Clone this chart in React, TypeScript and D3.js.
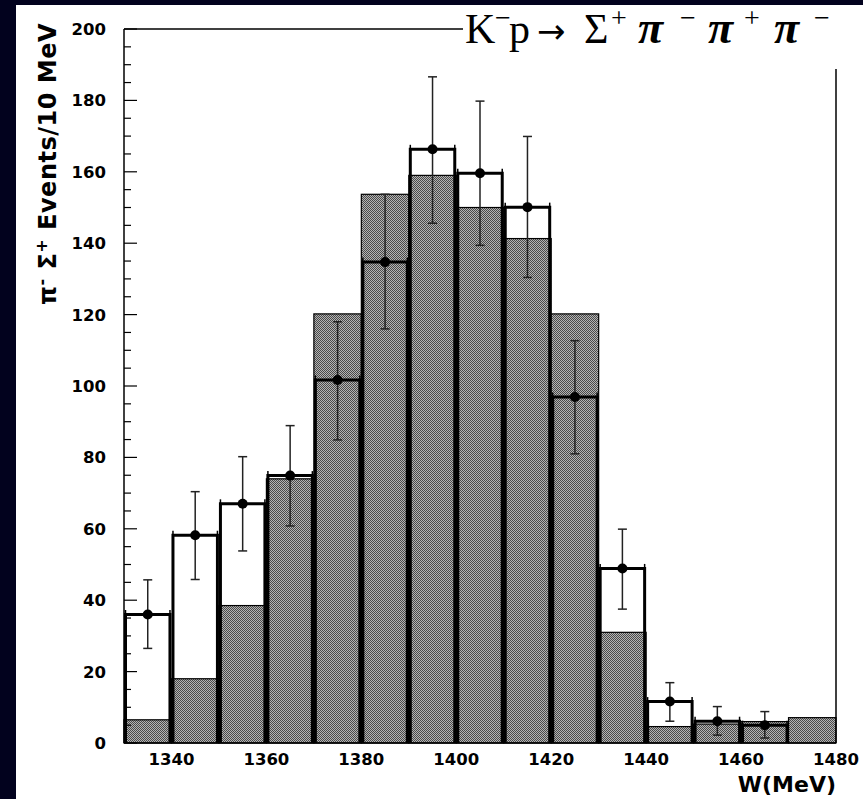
import React from "react";
import * as d3 from "d3";

// ---- data ----
const binLow = [1330, 1340, 1350, 1360, 1370, 1380, 1390, 1400, 1410, 1420, 1430, 1440, 1450, 1460, 1470];
const mcCounts = [6.5, 18, 38.5, 74, 120.2, 153.7, 159, 150, 141.3, 120.2, 31, 4.6, 5.3, 6.0, 7.1];
const dataCounts = [36, 58.2, 67, 74.9, 101.7, 134.7, 166.3, 159.6, 150.1, 96.9, 48.9, 11.6, 6.1, 5.0];
const errLow = [26.5, 45.8, 53.8, 60.8, 84.9, 116, 145.6, 139.4, 130.4, 81, 37.5, 6.1, 2.2, 1.4];
const errHigh = [45.7, 70.4, 80.2, 88.9, 118, 153.7, 186.6, 179.8, 169.9, 112.7, 59.9, 16.9, 10.2, 8.8];
const xTickLabels = [1340, 1360, 1380, 1400, 1420, 1440, 1460, 1480];
const yTickLabels = [0, 20, 40, 60, 80, 100, 120, 140, 160, 180, 200];
const binWidth = 10;

// title pieces: text, superscript flag, italic flag
const titlePieces: [string, boolean, boolean][] = [
  ["K", false, false],
  ["−", true, false],
  ["p", false, false],
  ["→", false, false],
  ["Σ", false, false],
  ["+", true, false],
  ["π", false, true],
  ["−", true, false],
  ["π", false, true],
  ["+", true, false],
  ["π", false, true],
  ["−", true, false],
];
const titleX = [465, 495, 509, 537, 584, 611, 638, 680, 708, 744, 774, 814];

const W = 863;
const H = 799;

export default function App() {
  const x = d3.scaleLinear().domain([1330, 1480]).range([124, 836]);
  const y = d3.scaleLinear().domain([0, 200]).range([743, 29]);
  const minor = d3.range(0, 201, 5);
  const sans = "'DejaVu Sans', sans-serif";
  const serif = "'Liberation Serif', 'Times New Roman', serif";

  return (
    <div style={{ position: "absolute", left: 0, top: 0 }}>
      <svg width={W} height={H} style={{ display: "block" }}>
        <defs>
          <pattern id="dither" width={2} height={2} patternUnits="userSpaceOnUse">
            <rect x={0} y={0} width={1} height={1} fill="#4a4a4a" shapeRendering="crispEdges" />
            <rect x={1} y={1} width={1} height={1} fill="#4a4a4a" shapeRendering="crispEdges" />
            <rect x={1} y={0} width={1} height={1} fill="#b4b4b4" shapeRendering="crispEdges" />
            <rect x={0} y={1} width={1} height={1} fill="#b4b4b4" shapeRendering="crispEdges" />
          </pattern>
        </defs>
        <rect x={0} y={0} width={W} height={H} fill="#02021e" />
        <rect x={16} y={5} width={W - 16} height={H - 5} fill="#fff" />

        {/* MC histogram */}
        {binLow.map((b, i) => (
          <rect
            key={"mc" + i}
            x={x(b)}
            y={y(mcCounts[i])}
            width={x(b + binWidth) - x(b)}
            height={y(0) - y(mcCounts[i])}
            fill="url(#dither)"
            stroke="#000"
            strokeWidth={1.2}
          />
        ))}

        {/* data boxes */}
        {dataCounts.map((v, i) => {
          const x0 = x(binLow[i]) + 1.5;
          const x1 = x(binLow[i] + binWidth) - 1.5;
          return (
            <g key={"d" + i}>
              <path
                d={`M${x0},${y(0)}V${y(v)}H${x1}V${y(0)}`}
                fill="none"
                stroke="#000"
                strokeWidth={3}
              />
              <line x1={x0} x2={x0} y1={y(v) - 4.5} y2={y(v) + 4.5} stroke="#000" strokeWidth={1.5} />
              <line x1={x1} x2={x1} y1={y(v) - 4.5} y2={y(v) + 4.5} stroke="#000" strokeWidth={1.5} />
            </g>
          );
        })}

        {/* error bars and markers */}
        {dataCounts.map((v, i) => {
          const cx = x(binLow[i] + binWidth / 2);
          return (
            <g key={"e" + i}>
              <line x1={cx} x2={cx} y1={y(errLow[i])} y2={y(errHigh[i])} stroke="#222" strokeWidth={1.5} />
              <line x1={cx - 4.5} x2={cx + 4.5} y1={y(errLow[i])} y2={y(errLow[i])} stroke="#222" strokeWidth={1.5} />
              <line x1={cx - 4.5} x2={cx + 4.5} y1={y(errHigh[i])} y2={y(errHigh[i])} stroke="#222" strokeWidth={1.5} />
              <circle cx={cx} cy={y(v)} r={5} fill="#000" />
            </g>
          );
        })}

        {/* frame */}
        <line x1={124} x2={124} y1={y(200)} y2={y(0)} stroke="#000" strokeWidth={1.5} />
        <line x1={124} x2={836} y1={y(0)} y2={y(0)} stroke="#000" strokeWidth={1.5} />
        <line x1={124} x2={463} y1={y(200)} y2={y(200)} stroke="#000" strokeWidth={1.5} />
        <line x1={836} x2={836} y1={69} y2={y(0)} stroke="#000" strokeWidth={1.5} />

        {/* y ticks */}
        {minor.map((t) => (
          <line
            key={"yt" + t}
            x1={124}
            x2={124 + (t % 20 === 0 ? 13 : 7)}
            y1={y(t)}
            y2={y(t)}
            stroke="#000"
            strokeWidth={1.2}
          />
        ))}
        {yTickLabels.map((t) => (
          <text
            key={"yl" + t}
            x={106}
            y={y(t)}
            dy="0.36em"
            textAnchor="end"
            fontFamily={sans}
            fontWeight="bold"
            fontSize={16.5}
            fill="#000"
          >
            {t}
          </text>
        ))}
        {xTickLabels.map((t) => (
          <text
            key={"xl" + t}
            x={x(t)}
            y={765}
            textAnchor="middle"
            fontFamily={sans}
            fontWeight="bold"
            fontSize={16.5}
            fill="#000"
          >
            {t}
          </text>
        ))}

        {/* axis titles */}
        <text
          x={836}
          y={792}
          textAnchor="end"
          fontFamily={sans}
          fontWeight="bold"
          fontSize={22}
          fill="#000"
        >
          W(MeV)
        </text>
        <text
          transform="translate(56,23) rotate(-90)"
          textAnchor="end"
          fontFamily={sans}
          fontWeight="bold"
          fontSize={24}
          letterSpacing={0.5}
          fill="#000"
        >
          <tspan>π</tspan>
          <tspan dy={-9} fontSize={16}>-</tspan>
          <tspan dy={9}> Σ</tspan>
          <tspan dy={-9} fontSize={16}>+</tspan>
          <tspan dy={9}> Events/10 MeV</tspan>
        </text>

        {/* title */}
        <rect x={464} y={5} width={W - 464} height={64} fill="#fff" />
        <text fontFamily={serif} fill="#000">
          {titlePieces.map(([t, sup, it], i) => (
            <tspan
              key={"tt" + i}
              x={titleX[i]}
              y={sup ? 27 : 43}
              fontFamily={t === "→" ? sans : serif}
              fontSize={sup ? 28 : t === "π" ? 46 : t === "→" ? 34 : 42}
              fontStyle={it ? "italic" : "normal"}
              fontWeight={it ? "bold" : "normal"}
            >
              {t}
            </tspan>
          ))}
        </text>
      </svg>
    </div>
  );
}
